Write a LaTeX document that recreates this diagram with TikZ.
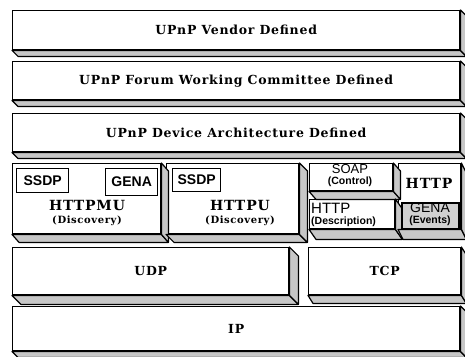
\documentclass[tikz,border=0pt]{standalone}
\usepackage{fontspec}
\usetikzlibrary{calc}
\setmainfont{DejaVu Serif}
\newfontfamily\lblfont[LetterSpace=6]{DejaVu Serif}
\newfontfamily\sfont{Liberation Sans}
\newcommand\bevel[3]{%
  \filldraw[bevelshade] (#1.south west) -- ++(#2,#3) -- ($(#1.south east)+(#2,#3)$) -- (#1.south east) -- cycle;
  \filldraw[bevelshade] (#1.north east) -- ++(#2,#3) -- ($(#1.south east)+(#2,#3)$) -- (#1.south east) -- cycle;}
\begin{document}
\begin{tikzpicture}[x=1pt,y=-1pt,
  face/.style={draw, fill=white, line width=1.4pt, inner sep=0pt, anchor=north west},
  bevelshade/.style={fill=black!22, draw=black, line width=1.2pt, line join=round},
  inbox/.style={draw, fill=white, line width=1.3pt, inner sep=0pt, anchor=north west, font=\sfont\fontsize{14}{14}\selectfont\bfseries},
  big/.style={font=\lblfont\fontsize{12.5}{12.5}\selectfont\bfseries},
  mid/.style={font=\lblfont\fontsize{14}{14}\selectfont\bfseries},
  small/.style={font=\lblfont\fontsize{10}{10}\selectfont\bfseries},
  ssm/.style={font=\sfont\fontsize{10.5}{10.5}\selectfont\bfseries}]
\useasboundingbox (0,0) rectangle (465,356);
% full-width layers
\node[face, minimum width=447pt, minimum height=39pt, big] (vendor) at (12,10) {UPnP Vendor Defined};
\node[face, minimum width=447pt, minimum height=38pt, big] (forum) at (12,61) {UPnP Forum Working Committee Defined};
\node[face, minimum width=447pt, minimum height=38pt, big] (arch) at (12,113) {UPnP Device Architecture Defined};
\bevel{vendor}{6}{6}
\bevel{forum}{6}{6}
\bevel{arch}{6}{6}
% middle row
\node[face, minimum width=148pt, minimum height=70pt] (httpmu) at (12,163) {};
\node[face, minimum width=132pt, minimum height=70pt] (httpu) at (166,163) {};
\node[face, minimum width=83pt, minimum height=27pt] (soap) at (309,163) {};
\node[face, minimum width=85pt, minimum height=29pt] (httpd) at (309,199) {};
\node[face, minimum width=62pt, minimum height=65pt] (httpr) at (398,163) {};
\bevel{httpmu}{7}{8}
\bevel{httpu}{8}{8}
\bevel{soap}{7}{8}
\bevel{httpd}{7}{10}
\bevel{httpr}{5}{10}
\node[inbox, minimum width=52pt, minimum height=24pt] (ssdp1) at (16,168) {SSDP};
\node[inbox, minimum width=52pt, minimum height=27pt] (gena1) at (105,168) {GENA};
\node[inbox, minimum width=48pt, minimum height=23pt] (ssdp2) at (172,168) {SSDP};
\node[mid] (l1) at (87,205) {HTTPMU};
\node[small] (l2) at (87,221) {(Discovery)};
\node[mid] (l3) at (240,205) {HTTPU};
\node[small] (l4) at (240,221) {(Discovery)};
\node[font=\sfont\fontsize{13}{13}\selectfont] (s1) at (350,169) {SOAP};
\node[ssm] (s2) at (350,182) {(Control)};
\node[font=\sfont\fontsize{15}{15}\selectfont, anchor=west, inner sep=0pt] (h1) at (311,208) {HTTP};
\node[ssm, anchor=west, inner sep=0pt] (h2) at (311,222) {(Description)};
\node[mid] (h3) at (429,183) {HTTP};
\node[draw, fill=black!18, line width=1.8pt, inner sep=0pt, anchor=north west, minimum width=57pt, minimum height=26pt] (gena2) at (401,202) {};
\node[font=\sfont\fontsize{14}{14}\selectfont] (g1) at (430,208) {GENA};
\node[ssm] (g2) at (430,221) {(Events)};
% lower layers
\node[face, minimum width=276pt, minimum height=47pt, big] (udp) at (12,247) {UDP};
\node[face, minimum width=152pt, minimum height=47pt, big] (tcp) at (308,247) {TCP};
\node[face, minimum width=447pt, minimum height=44pt, big] (ip) at (12,306) {IP};
\bevel{udp}{9}{9}
\bevel{tcp}{5}{8}
\bevel{ip}{6}{6}
\end{tikzpicture}
\end{document}
